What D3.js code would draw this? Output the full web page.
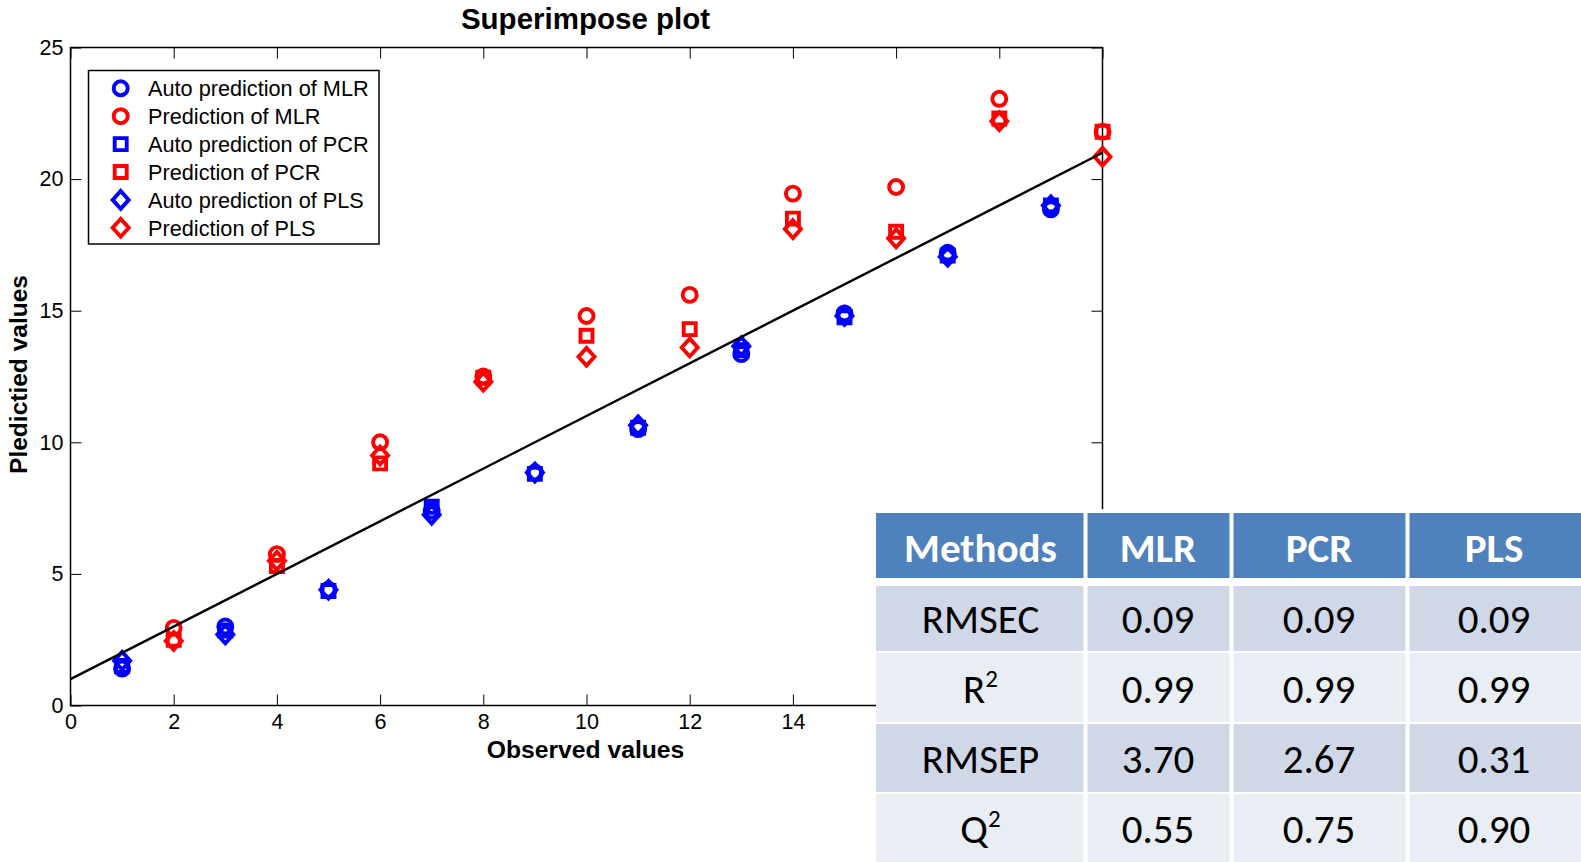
<!DOCTYPE html>
<html>
<head>
<meta charset="utf-8">
<script src="https://cdn.jsdelivr.net/npm/d3@7"></script>
<style>
  html, body { margin: 0; padding: 0; background: #fff; }
  svg { display: block; }
</style>
</head>
<body>
<svg id="chart" width="1581" height="862"></svg>
<script>
// ---------------- DATA ----------------
const obsAuto = [1, 3, 5, 7, 9, 11, 13, 15, 17, 19];
const obsPred = [2, 4, 6, 8, 10, 12, 14, 16, 18, 20];

const autoMLR = [1.4, 3.0, 4.4, 7.4, 8.85, 10.5, 13.35, 14.9, 17.2, 18.85];
const predMLR = [2.95, 5.75, 10.0, 12.5, 14.8, 15.6, 19.45, 19.7, 23.05, 21.8];
const autoPCR = [1.5, 2.85, 4.35, 7.55, 8.8, 10.55, 13.5, 14.75, 17.1, 19.0];
const predPCR = [2.5, 5.3, 9.2, 12.45, 14.05, 14.3, 18.5, 18.0, 22.3, 21.8];
const autoPLS = [1.7, 2.7, 4.4, 7.25, 8.85, 10.65, 13.65, 14.8, 17.05, 19.0];
const predPLS = [2.45, 5.5, 9.5, 12.3, 13.25, 13.6, 18.1, 17.75, 22.2, 20.85];

const fitX = [0, 20];
const fitY = [1.0, 21.0];

const xTicks = [0, 2, 4, 6, 8, 10, 12, 14, 16, 18, 20];
const yTicks = [0, 5, 10, 15, 20, 25];

const legendLabels = ["Auto prediction of MLR", "Prediction of MLR", "Auto prediction of PCR",
                      "Prediction of PCR", "Auto prediction of PLS", "Prediction of PLS"];

const tableHeader = ["Methods", "MLR", "PCR", "PLS"];
const tableRowLabels = ["RMSEC", "R", "RMSEP", "Q"];
const tableRowSup = ["", "2", "", "2"];
const tableMLR = ["0.09", "0.99", "3.70", "0.55"];
const tablePCR = ["0.09", "0.99", "2.67", "0.75"];
const tablePLS = ["0.09", "0.99", "0.31", "0.90"];

// ---------------- SETUP ----------------
(function () {
const svg = d3.select("#chart");
const W = 1581, H = 862;
svg.append("rect").attr("width", W).attr("height", H).attr("fill", "#fff");

const pL = 70.5, pR = 1102.5, pT = 47.5, pB = 705.5;
const x = d3.scaleLinear().domain([0, 20]).range([pL, pR]);
const y = d3.scaleLinear().domain([0, 25]).range([pB, pT]);

const plotFont = "'Liberation Sans', Arial, Helvetica, sans-serif";
const BLUE = "#0000ff", RED = "#ff0000";

const diamondSym = {
  draw(ctx, size) {
    const h = Math.sqrt(size) * 0.78, w = h * 0.9;
    ctx.moveTo(0, -h); ctx.lineTo(w, 0); ctx.lineTo(0, h); ctx.lineTo(-w, 0); ctx.closePath();
  }
};
const shapes = {
  circle: d3.symbol().type(d3.symbolCircle).size(Math.PI * 7 * 7),
  square: d3.symbol().type(d3.symbolSquare).size(12 * 12),
  diamond: d3.symbol().type(diamondSym).size(130)
};

// ---------------- AXES ----------------
const tickLen = 11;
const gx = svg.append("g").attr("transform", `translate(0,${pB})`)
  .call(d3.axisBottom(x).tickValues(xTicks).tickSize(-tickLen).tickPadding(8).tickFormat(d3.format("d")));
const gy = svg.append("g").attr("transform", `translate(${pL},0)`)
  .call(d3.axisLeft(y).tickValues(yTicks).tickSize(-tickLen).tickPadding(7).tickFormat(d3.format("d")));
const gt = svg.append("g").attr("transform", `translate(0,${pT})`)
  .call(d3.axisTop(x).tickValues(xTicks).tickSize(-tickLen).tickFormat(() => ""));
const gr = svg.append("g").attr("transform", `translate(${pR},0)`)
  .call(d3.axisRight(y).tickValues(yTicks).tickSize(-tickLen).tickFormat(() => ""));

[gx, gy, gt, gr].forEach(g => {
  g.select(".domain").remove();
  g.selectAll(".tick line").attr("stroke", "#000").attr("stroke-width", 1);
  g.selectAll("text").attr("font-family", plotFont).attr("font-size", 21.5).attr("fill", "#000");
});

svg.append("rect")
  .attr("x", pL).attr("y", pT).attr("width", pR - pL).attr("height", pB - pT)
  .attr("fill", "none").attr("stroke", "#000").attr("stroke-width", 1.5);

// ---------------- MARKERS ----------------
const series = [
  { xs: obsAuto, ys: autoMLR, shape: "circle", color: BLUE },
  { xs: obsPred, ys: predMLR, shape: "circle", color: RED },
  { xs: obsAuto, ys: autoPCR, shape: "square", color: BLUE },
  { xs: obsPred, ys: predPCR, shape: "square", color: RED },
  { xs: obsAuto, ys: autoPLS, shape: "diamond", color: BLUE },
  { xs: obsPred, ys: predPLS, shape: "diamond", color: RED }
];

series.forEach(s => {
  svg.append("g").selectAll("path")
    .data(s.ys.map((v, i) => [s.xs[i], v]))
    .join("path")
    .attr("transform", d => `translate(${x(d[0])},${y(d[1])})`)
    .attr("d", shapes[s.shape]())
    .attr("fill", "none")
    .attr("stroke", s.color)
    .attr("stroke-width", 3.9);
});

svg.append("path")
  .datum(fitX.map((v, i) => [v, fitY[i]]))
  .attr("d", d3.line().x(d => x(d[0])).y(d => y(d[1])))
  .attr("fill", "none").attr("stroke", "#000").attr("stroke-width", 2.4);

// ---------------- LEGEND ----------------
const lg = svg.append("g");
lg.append("rect").attr("x", 88.5).attr("y", 70.5).attr("width", 290.5).attr("height", 173.5)
  .attr("fill", "#fff").attr("stroke", "#000").attr("stroke-width", 1.5);
series.forEach((s, i) => {
  const cy = 88.3 + i * 27.9;
  lg.append("path").attr("transform", `translate(120.7,${cy})`)
    .attr("d", shapes[s.shape]()).attr("fill", "none").attr("stroke", s.color).attr("stroke-width", 3.9);
  lg.append("text").attr("x", 148).attr("y", cy).attr("dy", "0.36em")
    .attr("font-family", plotFont).attr("font-size", 21.7).attr("fill", "#000")
    .text(legendLabels[i]);
});

// ---------------- TITLES ----------------
svg.append("text").attr("x", (pL + pR) / 2 - 1).attr("y", 29)
  .attr("text-anchor", "middle").attr("font-family", plotFont).attr("font-weight", "bold")
  .attr("font-size", 29.5).text("Superimpose plot");
svg.append("text").attr("x", (pL + pR) / 2 - 1).attr("y", 758)
  .attr("text-anchor", "middle").attr("font-family", plotFont).attr("font-weight", "bold")
  .attr("font-size", 24.7).text("Observed values");
svg.append("text").attr("transform", `translate(27,${(pT + pB) / 2 - 2}) rotate(-90)`)
  .attr("text-anchor", "middle").attr("font-family", plotFont).attr("font-weight", "bold")
  .attr("font-size", 24.5).text("Pledictied values");

// ---------------- TABLE ----------------
const tblFont = "Carlito, Calibri, Lato, 'Open Sans', sans-serif";
const colEdges = [876, 1085, 1231, 1407, 1581];
const colGap = 3;
const headerTop = 513, headerBot = 578;
const rowTops = [586, 653, 724, 794];
const rowBots = [651, 722, 792, 862];
const baselines = [633, 703, 773, 843];
const tg = svg.append("g");
tg.append("rect").attr("x", colEdges[0]).attr("y", headerTop - 4).attr("width", W - colEdges[0]).attr("height", H - headerTop + 4).attr("fill", "#fff");

const cols = [tableRowLabels, tableMLR, tablePCR, tablePLS];
for (let c = 0; c < 4; c++) {
  const x0 = colEdges[c] + (c === 0 ? 0 : colGap / 2 + 1);
  const x1 = colEdges[c + 1] - (c === 3 ? 0 : colGap / 2);
  const cx = (colEdges[c] + colEdges[c + 1]) / 2;
  tg.append("rect").attr("x", x0).attr("y", headerTop).attr("width", x1 - x0).attr("height", headerBot - headerTop)
    .attr("fill", "#4f81bd");
  tg.append("text").attr("x", cx).attr("y", 562)
    .attr("text-anchor", "middle").attr("font-family", tblFont).attr("font-weight", "bold")
    .attr("font-size", 41).attr("fill", "#fff").text(tableHeader[c]);
  for (let r = 0; r < 4; r++) {
    tg.append("rect").attr("x", x0).attr("y", rowTops[r]).attr("width", x1 - x0).attr("height", rowBots[r] - rowTops[r])
      .attr("fill", r % 2 === 0 ? "#d0d8e8" : "#e9edf4");
    const t = tg.append("text").attr("x", cx).attr("y", baselines[r])
      .attr("text-anchor", "middle").attr("font-family", tblFont)
      .attr("font-size", 41).attr("fill", "#000");
    t.append("tspan").text(cols[c][r]);
    if (c === 0 && tableRowSup[r]) {
      t.append("tspan").attr("font-size", 25).attr("dy", -16).text(tableRowSup[r]);
    }
  }
}
})();
</script>
</body>
</html>
